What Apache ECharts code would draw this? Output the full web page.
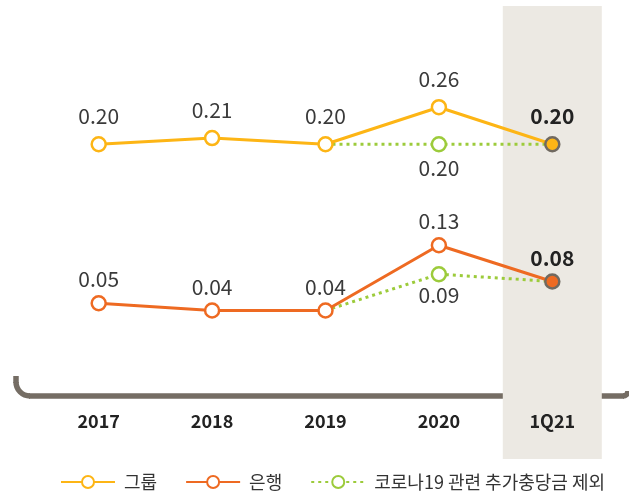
<!DOCTYPE html>
<html>
<head>
<meta charset="utf-8">
<style>
  html, body { margin: 0; padding: 0; background: #fff; }
  #chart { width: 629px; height: 492px; }
</style>
<script src="https://cdn.jsdelivr.net/npm/echarts@6/dist/echarts.min.js"></script>
</head>
<body>
<div id="chart"></div>
<script>
// 데이터
const categories = ['2017', '2018', '2019', '2020', '1Q21'];
const groupValues = [0.20, 0.21, 0.20, 0.26, 0.20];
const bankValues = [0.05, 0.04, 0.04, 0.13, 0.08];
const groupExCovid = [null, null, 0.20, 0.20, 0.20];
const bankExCovid = [null, null, 0.04, 0.09, 0.08];
const bandValues = [null, null, null, null, 1];
const seriesNames = ['그룹', '은행', '코로나19 관련 추가충당금 제외'];

const FONT = '"Noto Sans CJK KR", "Noto Sans", sans-serif';
const C_GROUP = '#FDB515';
const C_BANK = '#EE6A22';
const C_GREEN = '#9CCB3B';
const C_RING = '#706960';
const C_AXIS = '#756D64';
const lastIdx = categories.length - 1;

const chart = echarts.init(document.getElementById('chart'));

//주 계열 데이터 (마지막 분기는 채워진 점 + 굵은 라벨)
function mainData(values, color) {
    return values.map((v, i) => i === lastIdx ? {
        value: v,
        itemStyle: { color: color, borderColor: C_RING },
        label: { fontWeight: 'bold', color: '#222' }
    } : v);
}

//코로나 제외 계열: 중간 점에만 마커와 라벨
function exData(values) {
    const idx = values.map((v, i) => v == null ? -1 : i).filter(i => i >= 0);
    const first = idx[0], last = idx[idx.length - 1];
    return values.map((v, i) => {
        if (v == null) return null;
        if (i === first || i === last) return { value: v, symbol: 'none', label: { show: false } };
        return v;
    });
}

const valueLabel = {
    show: true,
    fontFamily: FONT,
    fontSize: 21,
    color: '#3a3a3a',
    formatter: p => p.value.toFixed(2)
};

//하단 괄호 모양 축선
const axisStyle = { fill: 'none', stroke: C_AXIS, lineWidth: 5.5 };
const bracket = {
    type: 'group', z: 10,
    children: [
        { type: 'line', shape: { x1: 16, y1: 376, x2: 16, y2: 383 }, style: axisStyle },
        { type: 'arc', shape: { cx: 30, cy: 382, r: 14, startAngle: Math.PI / 2, endAngle: Math.PI, clockwise: true }, style: axisStyle },
        { type: 'line', shape: { x1: 29, y1: 396, x2: 624, y2: 396 }, style: axisStyle },
        { type: 'arc', shape: { cx: 623, cy: 391, r: 5, startAngle: 0, endAngle: Math.PI / 2, clockwise: true }, style: axisStyle }
    ]
};

chart.setOption({
    animation: false,
    textStyle: { fontFamily: FONT },
    grid: [
        { left: 42, right: 20, top: 6, height: 390 },
        { left: 42, right: 20, top: 6, height: 453 }
    ],
    xAxis: [
        {
            type: 'category', data: categories, gridIndex: 0,
            axisLine: { show: false }, axisTick: { show: false },
            axisLabel: { margin: 16, fontSize: 18, fontWeight: 'bold', color: '#222', fontFamily: FONT }
        },
        {
            type: 'category', data: categories, gridIndex: 1, show: false
        }
    ],
    yAxis: [
        { type: 'value', gridIndex: 0, min: -0.208, max: 0.424, show: false },
        { type: 'value', gridIndex: 0, min: -0.078, max: 0.46, show: false },
        { type: 'value', gridIndex: 1, min: 0, max: 1, show: false }
    ],
    legend: {
        left: 55, top: 468,
        itemWidth: 54, itemHeight: 15, itemGap: 28,
        data: seriesNames,
        textStyle: { fontSize: 18, color: '#333', fontFamily: FONT, padding: [0, 0, 0, 4] }
    },
    graphic: [bracket],
    series: [
        {
            type: 'bar', xAxisIndex: 1, yAxisIndex: 2,
            data: bandValues, barWidth: 99, silent: true,
            itemStyle: { color: '#ECE9E3' }, z: 0
        },
        {
            name: seriesNames[2], type: 'line', yAxisIndex: 0,
            data: exData(groupExCovid),
            symbol: 'circle', symbolSize: 14, z: 2,
            lineStyle: { color: C_GREEN, width: 3, type: [3, 4] },
            itemStyle: { color: '#fff', borderColor: C_GREEN, borderWidth: 2.5 },
            label: Object.assign({}, valueLabel, { position: 'bottom', distance: 5 })
        },
        {
            name: seriesNames[2], type: 'line', yAxisIndex: 1,
            data: exData(bankExCovid),
            symbol: 'circle', symbolSize: 14, z: 2,
            lineStyle: { color: C_GREEN, width: 3, type: [3, 4] },
            itemStyle: { color: '#fff', borderColor: C_GREEN, borderWidth: 2.5 },
            label: Object.assign({}, valueLabel, { position: 'bottom', distance: 2 })
        },
        {
            name: seriesNames[0], type: 'line', yAxisIndex: 0,
            data: mainData(groupValues, C_GROUP),
            symbol: 'circle', symbolSize: 14, z: 3,
            lineStyle: { color: C_GROUP, width: 3 },
            itemStyle: { color: '#fff', borderColor: C_GROUP, borderWidth: 2.5 },
            label: Object.assign({}, valueLabel, { position: 'top', distance: 9 })
        },
        {
            name: seriesNames[1], type: 'line', yAxisIndex: 1,
            data: mainData(bankValues, C_BANK),
            symbol: 'circle', symbolSize: 14, z: 3,
            lineStyle: { color: C_BANK, width: 3 },
            itemStyle: { color: '#fff', borderColor: C_BANK, borderWidth: 2.5 },
            label: Object.assign({}, valueLabel, { position: 'top', distance: 5 })
        }
    ]
});
</script>
</body>
</html>
